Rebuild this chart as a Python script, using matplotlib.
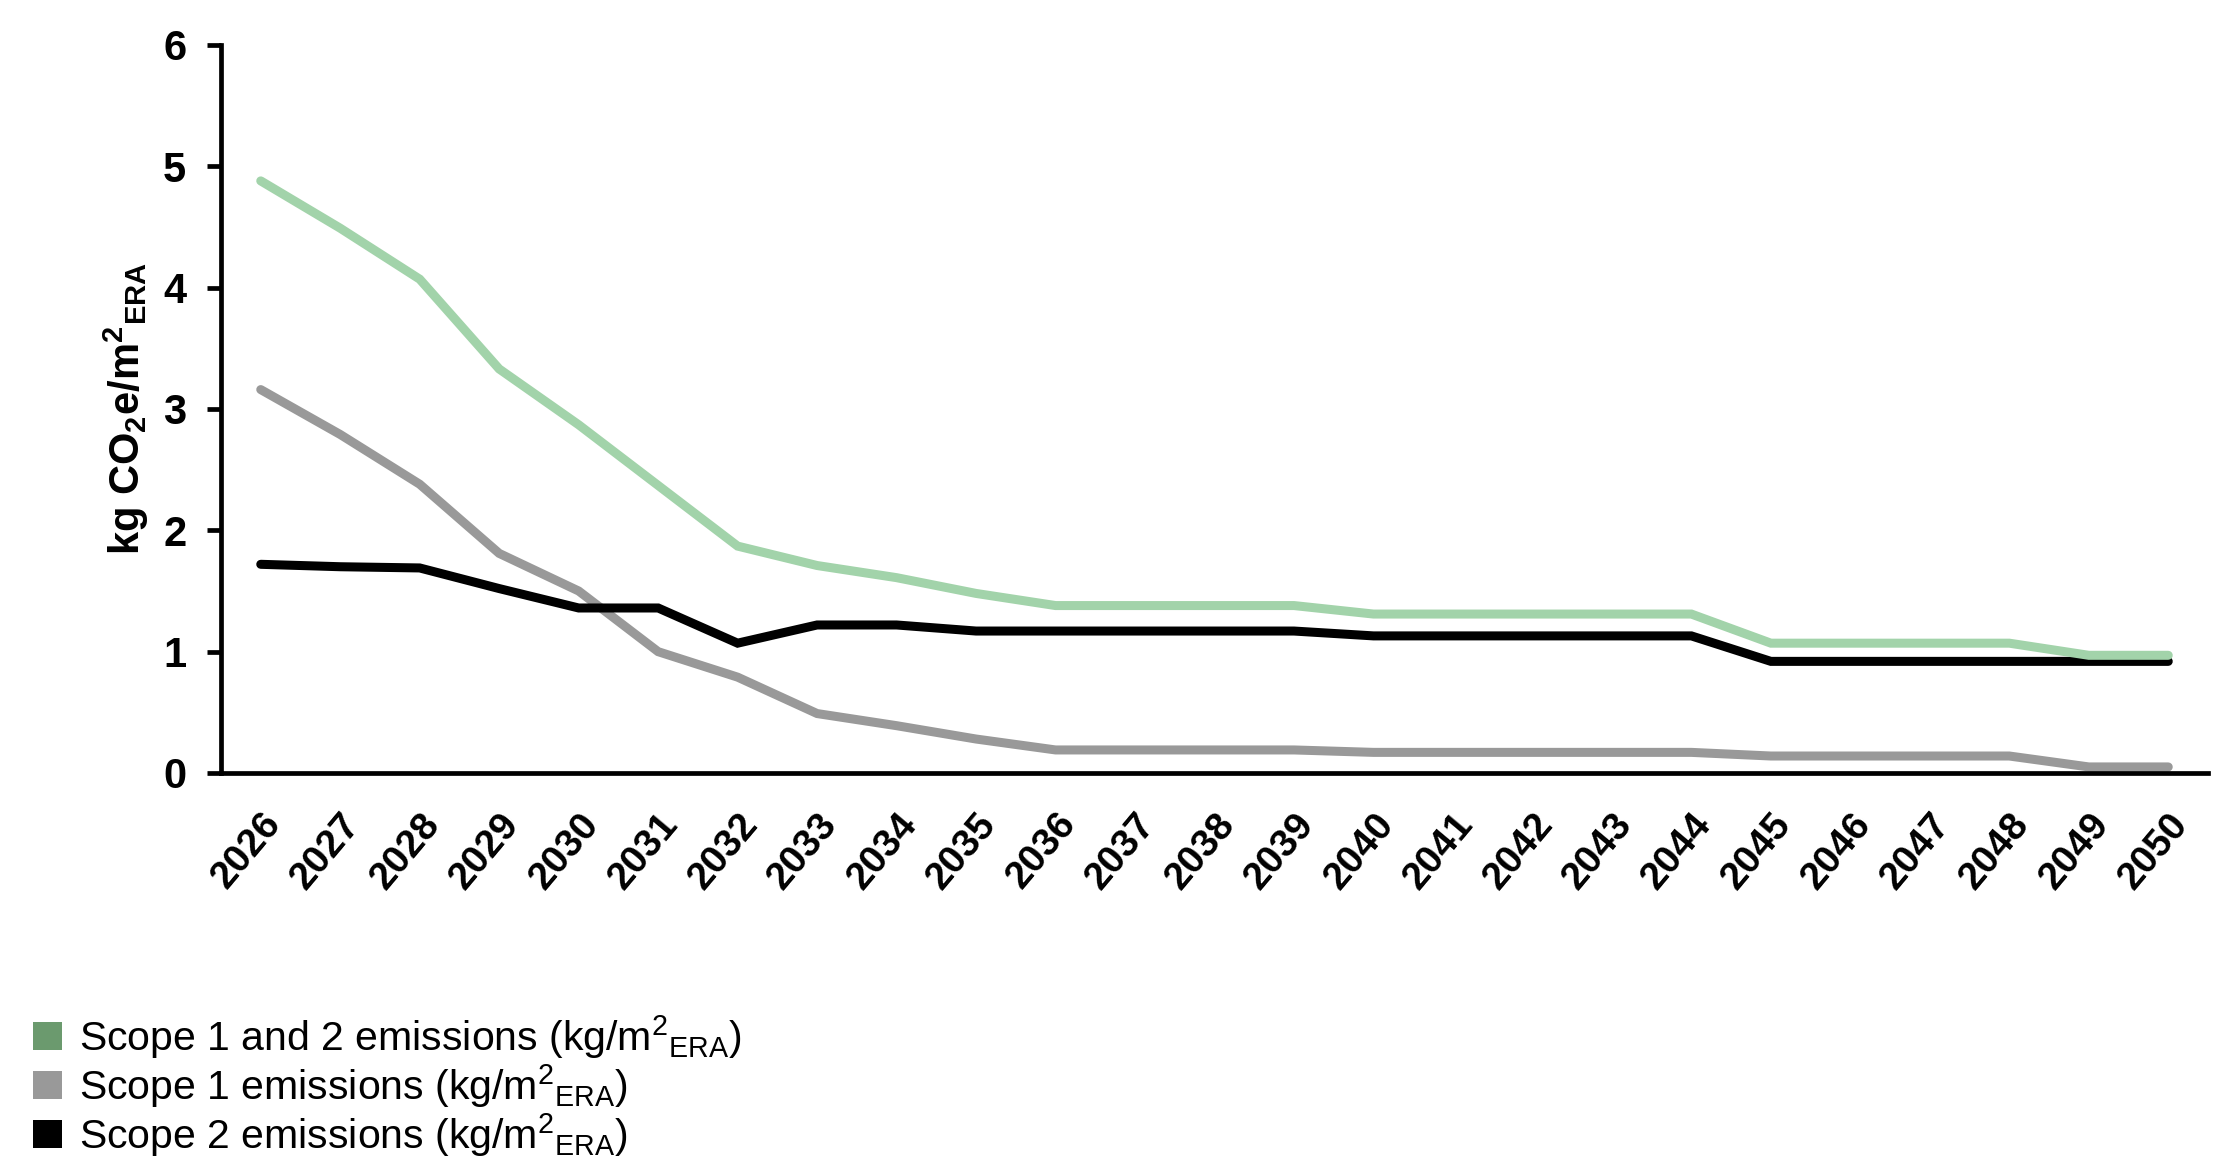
import matplotlib
matplotlib.use('Agg')
import matplotlib.pyplot as plt
from matplotlib.patches import Patch

# ---------------- data ----------------
years = [str(y) for y in range(2026, 2051)]

scope_12 = [4.88, 4.49, 4.07, 3.33, 2.87, 2.37, 1.87, 1.71, 1.61, 1.48, 1.38,
            1.38, 1.38, 1.38, 1.31, 1.31, 1.31, 1.31, 1.31, 1.07, 1.07, 1.07,
            1.07, 0.97, 0.97]
scope_1 = [3.16, 2.79, 2.38, 1.81, 1.50, 1.00, 0.79, 0.49, 0.39, 0.28, 0.19,
           0.19, 0.19, 0.19, 0.17, 0.17, 0.17, 0.17, 0.17, 0.14, 0.14, 0.14,
           0.14, 0.05, 0.05]
scope_2 = [1.72, 1.70, 1.69, 1.52, 1.36, 1.36, 1.07, 1.22, 1.22, 1.17, 1.17,
           1.17, 1.17, 1.17, 1.13, 1.13, 1.13, 1.13, 1.13, 0.92, 0.92, 0.92,
           0.92, 0.92, 0.92]

legend_labels = ['Scope 1 and 2 emissions (kg/m$^2$$_{ERA}$)',
                 'Scope 1 emissions (kg/m$^2$$_{ERA}$)',
                 'Scope 2 emissions (kg/m$^2$$_{ERA}$)']
legend_colors = ['#6b9a6e', '#999999', '#000000']

# ---------------- style ----------------
plt.rcParams['font.family'] = ['Liberation Sans', 'DejaVu Sans']
plt.rcParams['mathtext.default'] = 'regular'

fig = plt.figure(figsize=(22.2, 11.66), dpi=100)
ax = fig.add_axes([221 / 2220, 1 - 773 / 1166, (2208 - 221) / 2220, (773 - 45) / 1166])

x = list(range(len(years)))
lw = 6.5
ax.plot(x, scope_1, color='#999999', lw=lw, solid_capstyle='round', solid_joinstyle='miter')
ax.plot(x, scope_2, color='#000000', lw=lw, solid_capstyle='round', solid_joinstyle='miter')
ax.plot(x, scope_12, color='#a2d3aa', lw=lw, solid_capstyle='round', solid_joinstyle='miter')

ax.set_xlim(-0.5, len(years) - 0.5)
ax.set_ylim(0, 6)
ax.set_yticks(range(0, 7))

for side in ['top', 'right']:
    ax.spines[side].set_visible(False)
ax.spines['left'].set_linewidth(3.4)
ax.spines['bottom'].set_linewidth(3.4)

ax.tick_params(axis='y', length=10, width=3.4, pad=15, labelsize=30)
ax.tick_params(axis='x', length=0, pad=24, labelsize=28)
for lab in ax.get_yticklabels():
    lab.set_fontweight('bold')

ax.set_xticks(x)
ax.set_xticklabels(years, rotation=50, ha='right', va='top',
                   rotation_mode='anchor', fontweight='bold')

ax.set_ylabel('kg CO$_2$e/m$^2$$_{ERA}$', fontsize=30, fontweight='bold', labelpad=9)

handles = [Patch(facecolor=c, edgecolor='none') for c in legend_colors]
fig.legend(handles, legend_labels, loc='upper left',
           bbox_to_anchor=(33 / 2220, 1 - 1013 / 1166), frameon=False,
           fontsize=29.5, handlelength=0.7, handleheight=0.7,
           handletextpad=0.42, labelspacing=0.03, borderpad=0, borderaxespad=0)

fig.savefig('out.png', dpi=100, facecolor='white')
